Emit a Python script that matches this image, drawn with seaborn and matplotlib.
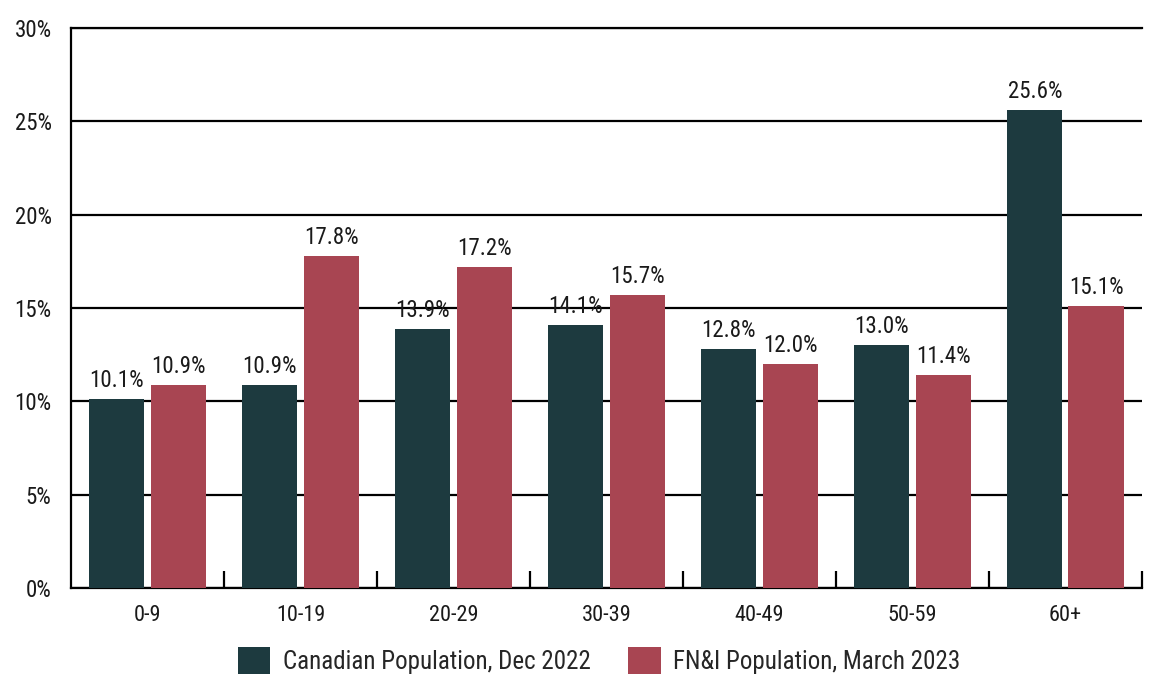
import pandas as pd
import matplotlib.pyplot as plt
import seaborn as sns
from matplotlib.ticker import FixedLocator, PercentFormatter

age_groups = ["0-9", "10-19", "20-29", "30-39", "40-49", "50-59", "60+"]
canadian = [10.1, 10.9, 13.9, 14.1, 12.8, 13.0, 25.6]
fni = [10.9, 17.8, 17.2, 15.7, 12.0, 11.4, 15.1]
series_names = ["Canadian Population, Dec 2022", "FN&I Population, March 2023"]
colors = ["#1d3a3f", "#a84552"]

df = pd.DataFrame({
    "Age": age_groups * 2,
    "Share": canadian + fni,
    "Series": [series_names[0]] * len(age_groups) + [series_names[1]] * len(age_groups),
})

sns.set_style("white")
plt.rcParams["font.family"] = ["Roboto Condensed", "Liberation Sans", "DejaVu Sans"]

fig = plt.figure(figsize=(11.7, 6.86), dpi=100)
ax = fig.add_axes([0.0607, 0.1429, 0.9153, 0.8163])

sns.barplot(data=df, x="Age", y="Share", hue="Series", palette=colors,
            gap=0.1, saturation=1, linewidth=0, ax=ax, zorder=3)

# value labels over each bar
for c in ax.containers:
    ax.bar_label(c, fmt="%.1f%%", padding=5, fontsize=16.5, color="#1a1a1a")

ax.set_ylim(0, 30)
ax.set_xlim(-0.5, len(age_groups) - 0.5)
ax.set_yticks(range(0, 31, 5))
ax.yaxis.set_major_formatter(PercentFormatter(decimals=0))
ax.yaxis.grid(True, color="black", linewidth=1.6, zorder=0)
ax.set_axisbelow(True)

ax.tick_params(axis="y", length=0, labelsize=16.5, pad=14, colors="#1a1a1a")
ax.tick_params(axis="x", which="major", length=0, labelsize=16, pad=12, colors="#1a1a1a")
ax.xaxis.set_minor_locator(FixedLocator([i + 0.5 for i in range(len(age_groups))]))
ax.tick_params(axis="x", which="minor", bottom=True, direction="in", length=12,
               width=1.6, color="black")

ax.spines["right"].set_visible(False)
for side in ["left", "bottom", "top"]:
    ax.spines[side].set_color("black")
    ax.spines[side].set_linewidth(1.6)

ax.set_xlabel("")
ax.set_ylabel("")

ax.legend(loc="upper center", bbox_to_anchor=(0.493, -0.065), ncol=2, frameon=False,
          fontsize=18, handlelength=1.3, handleheight=1.3, columnspacing=1.5,
          handletextpad=0.5)

fig.savefig("out.png", dpi=100)
